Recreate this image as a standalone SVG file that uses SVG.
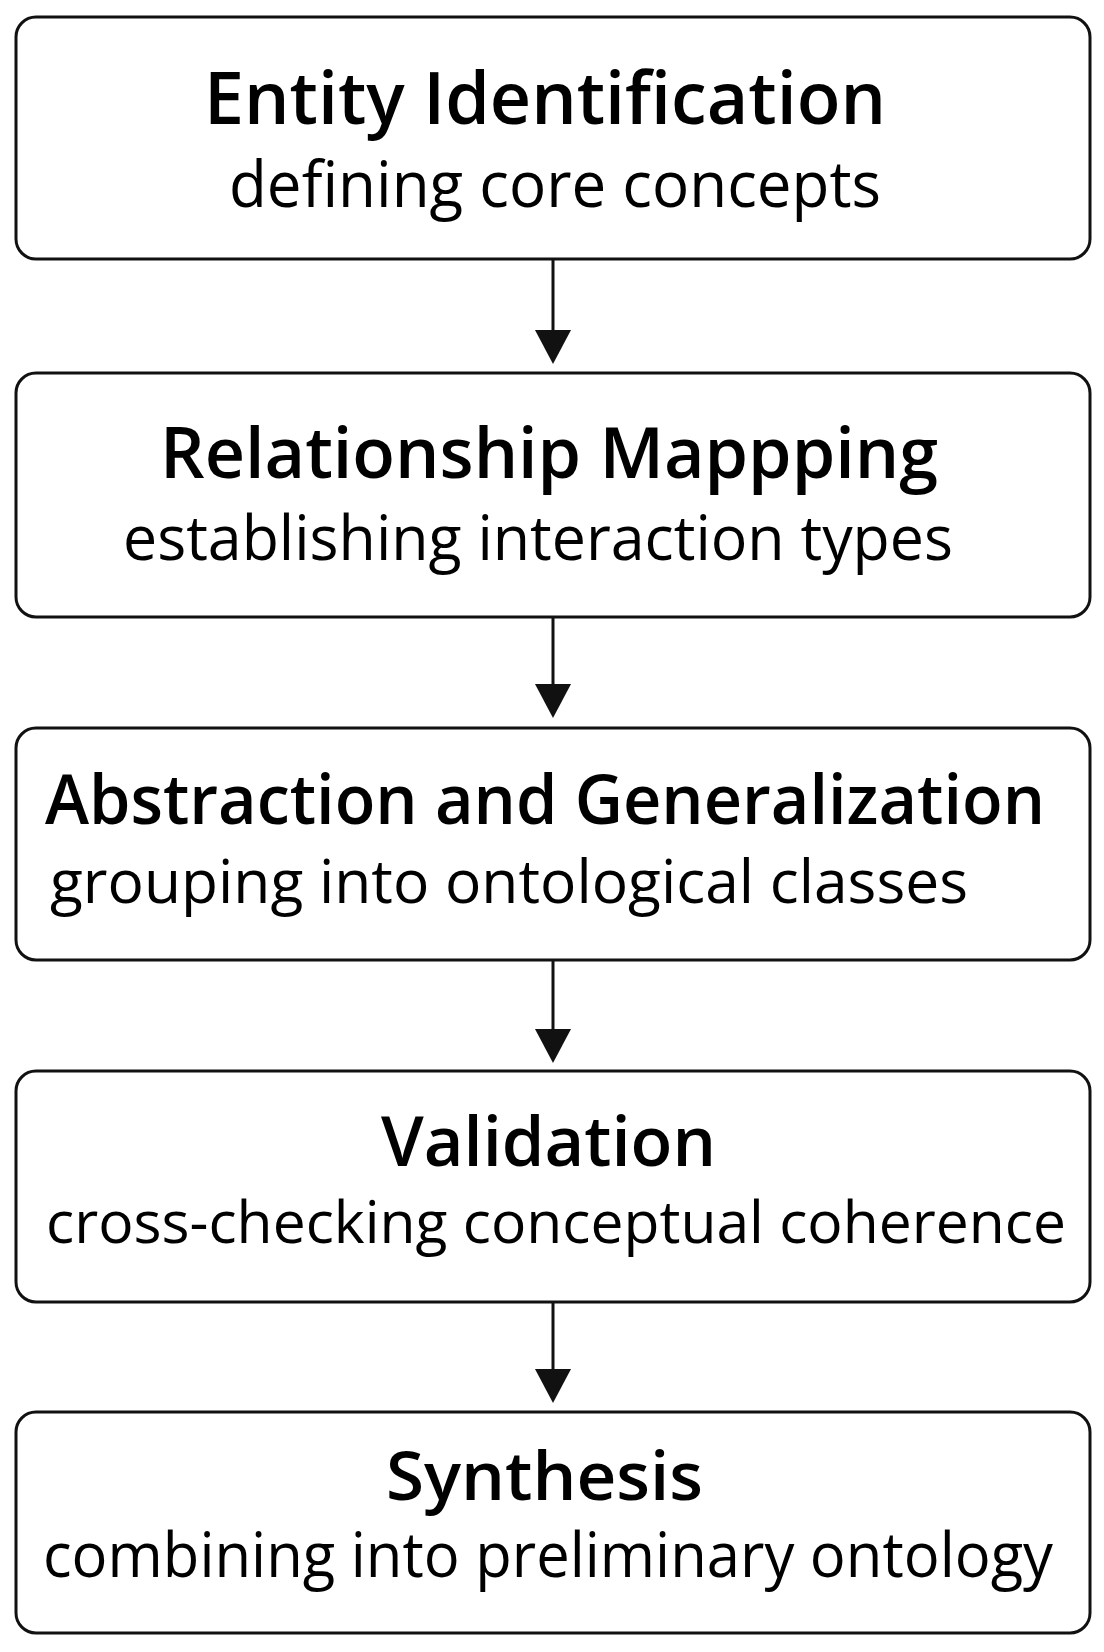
<svg xmlns="http://www.w3.org/2000/svg" width="1104" height="1652" viewBox="0 0 1104 1652">
<defs>
<style>
.box{fill:#fff;stroke:#111;stroke-width:3}
.t{font-family:"Open Sans","Noto Sans","DejaVu Sans",sans-serif;font-weight:600;fill:#000;text-anchor:start}
.s{font-family:"Open Sans","Noto Sans","DejaVu Sans",sans-serif;font-weight:400;fill:#000;text-anchor:start}
.c{stroke:#111;stroke-width:3;fill:none}
</style>
<marker id="ah" markerUnits="userSpaceOnUse" markerWidth="36" markerHeight="36" viewBox="0 0 34 36" refX="24" refY="18" orient="auto">
<path d="M0,0 L34,18 L0,36 z" fill="#111"/>
</marker>
</defs>
<rect width="1104" height="1652" fill="#fff"/>
<g id="connectors">
<line class="c" x1="553" y1="259" x2="553" y2="354" marker-end="url(#ah)"/>
<line class="c" x1="553" y1="617" x2="553" y2="708" marker-end="url(#ah)"/>
<line class="c" x1="553" y1="960" x2="553" y2="1053" marker-end="url(#ah)"/>
<line class="c" x1="553" y1="1302" x2="553" y2="1393" marker-end="url(#ah)"/>
</g>
<g id="node1">
<rect class="box" x="16" y="17" width="1074" height="242" rx="20"/>
<text class="t" x="204" y="124" font-size="73" font-weight="700" textLength="682" lengthAdjust="spacingAndGlyphs">Entity Identification</text>
<text class="s" x="229" y="207" font-size="64" textLength="652" lengthAdjust="spacingAndGlyphs">defining core concepts</text>
</g>
<g id="node2">
<rect class="box" x="16" y="373" width="1074" height="244" rx="20"/>
<text class="t" x="160" y="478" font-size="70" textLength="778" lengthAdjust="spacingAndGlyphs">Relationship Mappping</text>
<text class="s" x="123" y="560" font-size="63" textLength="830" lengthAdjust="spacingAndGlyphs">establishing interaction types</text>
</g>
<g id="node3">
<rect class="box" x="16" y="728" width="1074" height="232" rx="20"/>
<text class="t" x="45" y="824" font-size="69" textLength="1000" lengthAdjust="spacingAndGlyphs">Abstraction and Generalization</text>
<text class="s" x="50" y="903" font-size="61" textLength="918" lengthAdjust="spacingAndGlyphs">grouping into ontological classes</text>
</g>
<g id="node4">
<rect class="box" x="16" y="1071" width="1074" height="231" rx="20"/>
<text class="t" x="381" y="1166" font-size="69" textLength="335" lengthAdjust="spacingAndGlyphs">Validation</text>
<text class="s" x="46" y="1243" font-size="59" textLength="1020" lengthAdjust="spacingAndGlyphs">cross-checking conceptual coherence</text>
</g>
<g id="node5">
<rect class="box" x="16" y="1412" width="1074" height="221" rx="20"/>
<text class="t" x="386" y="1500" font-size="67" textLength="317" lengthAdjust="spacingAndGlyphs">Synthesis</text>
<text class="s" x="43" y="1577" font-size="62" textLength="1010" lengthAdjust="spacingAndGlyphs">combining into preliminary ontology</text>
</g>
</svg>
